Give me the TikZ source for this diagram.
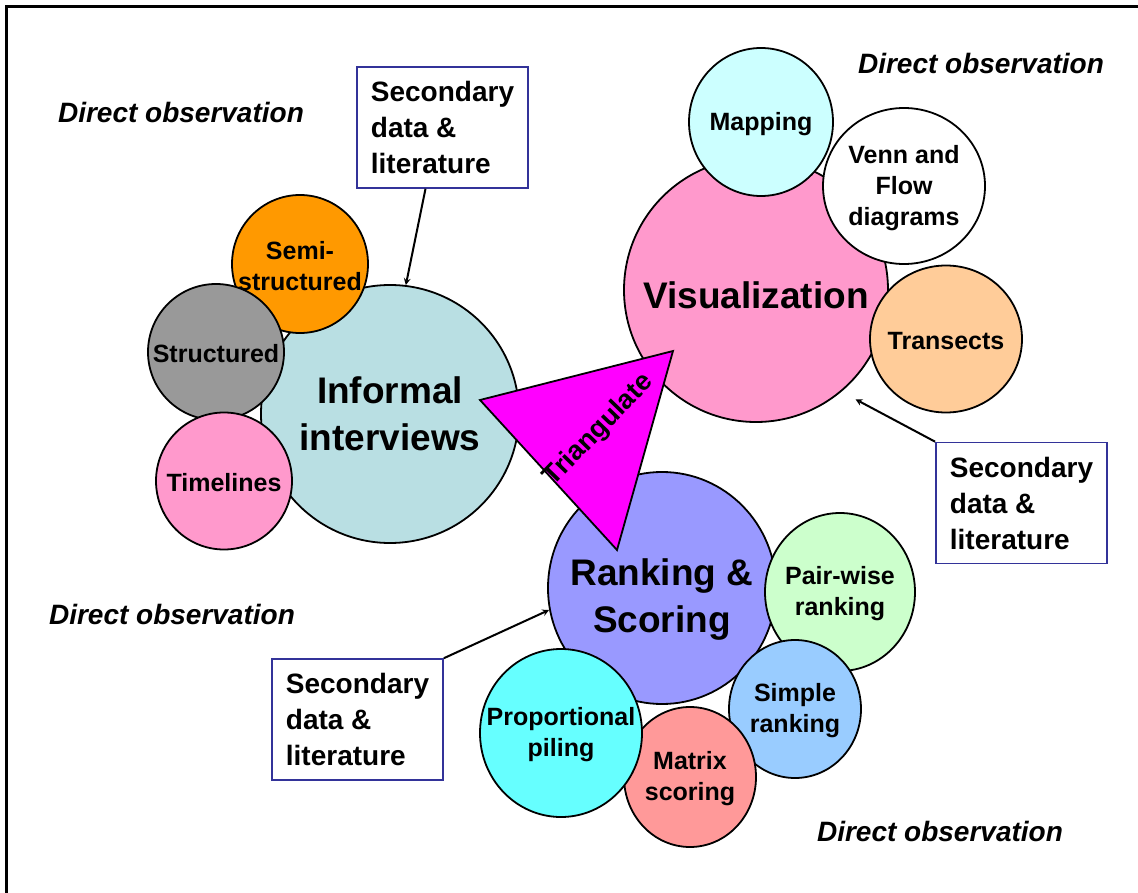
\documentclass[tikz,border=0pt]{standalone}
\usepackage{fontspec}
\setmainfont{Liberation Sans}
\usepackage{tikz}
\usetikzlibrary{shapes.geometric, arrows}
\definecolor{infoblue}{RGB}{185,223,227}
\definecolor{semiorange}{RGB}{255,153,0}
\definecolor{structgray}{RGB}{153,153,153}
\definecolor{pinkfill}{RGB}{255,153,204}
\definecolor{mapcyan}{RGB}{204,255,255}
\definecolor{transpeach}{RGB}{255,204,153}
\definecolor{rankviolet}{RGB}{153,153,255}
\definecolor{pairgreen}{RGB}{204,255,204}
\definecolor{simpleblue}{RGB}{153,204,255}
\definecolor{matrixred}{RGB}{255,153,153}
\definecolor{pilecyan}{RGB}{102,255,255}
\definecolor{trimagenta}{RGB}{255,0,255}
\definecolor{boxblue}{RGB}{51,51,153}
\tikzstyle{bubble} = [ellipse, draw=black, line width=1.8pt, inner sep=0pt]
\tikzstyle{bigtext} = [font=\bfseries\fontsize{37}{47}\selectfont, align=center]
\tikzstyle{smalltext} = [font=\bfseries\fontsize{25}{31}\selectfont, align=center, yshift=-2pt]
\tikzstyle{secbox} = [rectangle, draw=boxblue, line width=1.6pt, fill=white,
           align=left, inner xsep=14pt, minimum height=121pt,
           font=\bfseries\fontsize{28}{36}\selectfont]
\tikzstyle{direct} = [font=\bfseries\itshape\fontsize{28}{34}\selectfont]
\tikzstyle{arrow} = [line width=2pt,->,>=stealth]

\begin{document}
\begin{tikzpicture}[x=1pt, y=-1pt]
\useasboundingbox (0,0) rectangle (1138,893);
\draw [line width=3pt] (6,893) -- (6,7) -- (1138,7);
% the three big bubbles
\node (informal) [bubble, fill=infoblue, minimum width=258pt, minimum height=258pt,
   label={[bigtext]center:{Informal\\interviews}}] at (390,414) {};
\node (visual) [bubble, fill=pinkfill, minimum width=264pt, minimum height=264pt,
   label={[bigtext, yshift=-5pt]center:Visualization}] at (756,290) {};
\node (ranking) [bubble, fill=rankviolet, minimum width=228pt, minimum height=232pt,
   label={[bigtext, yshift=-12pt]center:{Ranking \&\\Scoring}}] at (662,588) {};
% methods round informal interviews
\node (semi) [bubble, fill=semiorange, minimum width=136pt, minimum height=138pt,
   label={[smalltext]center:{Semi-\\structured}}] at (300,264) {};
\node (structured) [bubble, fill=structgray, minimum width=136pt, minimum height=136pt,
   label={[smalltext]center:Structured}] at (216,352) {};
\node (timelines) [bubble, fill=pinkfill, minimum width=136pt, minimum height=137pt,
   label={[smalltext]center:Timelines}] at (224,481) {};
% methods round visualization
\node (mapping) [bubble, fill=mapcyan, minimum width=144pt, minimum height=148pt,
   label={[smalltext]center:Mapping}] at (761,122) {};
\node (venn) [bubble, fill=white, minimum width=162pt, minimum height=156pt,
   label={[smalltext]center:{Venn and\\Flow\\diagrams}}] at (904,186) {};
\node (transects) [bubble, fill=transpeach, minimum width=152pt, minimum height=147pt,
   label={[smalltext]center:Transects}] at (946,339) {};
% methods round ranking
\node (pairwise) [bubble, fill=pairgreen, minimum width=150pt, minimum height=158pt,
   label={[smalltext]center:{Pair-wise\\ranking}}] at (840,592) {};
\node (simple) [bubble, fill=simpleblue, minimum width=132pt, minimum height=138pt,
   label={[smalltext]center:{Simple\\ranking}}] at (795,709) {};
\node (matrix) [bubble, fill=matrixred, minimum width=132pt, minimum height=140pt,
   label={[smalltext]center:{Matrix\\scoring}}] at (690,777) {};
\node (piling) [bubble, fill=pilecyan, minimum width=162pt, minimum height=168pt,
   label={[smalltext]center:{Proportional\\piling}}] at (561,733) {};
% triangulate
\coordinate (triA) at (480,400);
\coordinate (triB) at (673,351);
\coordinate (triC) at (617,550);
\draw [fill=trimagenta, line width=1.8pt, line join=miter] (triA) -- (triB) -- (triC) -- cycle;
\node (triangulate) [font=\bfseries\fontsize{27}{32}\selectfont, rotate=46] at (599,430) {Triangulate};
% secondary data boxes
\node (secTop) [secbox] at (442.5,127.5) {Secondary\\data \&\\literature};
\node (secRight) [secbox] at (1021.5,503) {Secondary\\data \&\\literature};
\node (secBottom) [secbox] at (357.5,719.5) {Secondary\\data \&\\literature};
\draw [arrow] ([xshift=-17pt]secTop.south) -- (informal.83);
\draw [arrow, shorten >=16pt] (secRight.north west) -- (visual.-50);
\draw [arrow] (secBottom.north east) -- (ranking.191);
% direct observation
\node (obsTL) [direct] at (181,112) {Direct observation};
\node (obsTR) [direct] at (981,63) {Direct observation};
\node (obsML) [direct] at (172,614) {Direct observation};
\node (obsBR) [direct] at (940,831) {Direct observation};
\end{tikzpicture}
\end{document}
